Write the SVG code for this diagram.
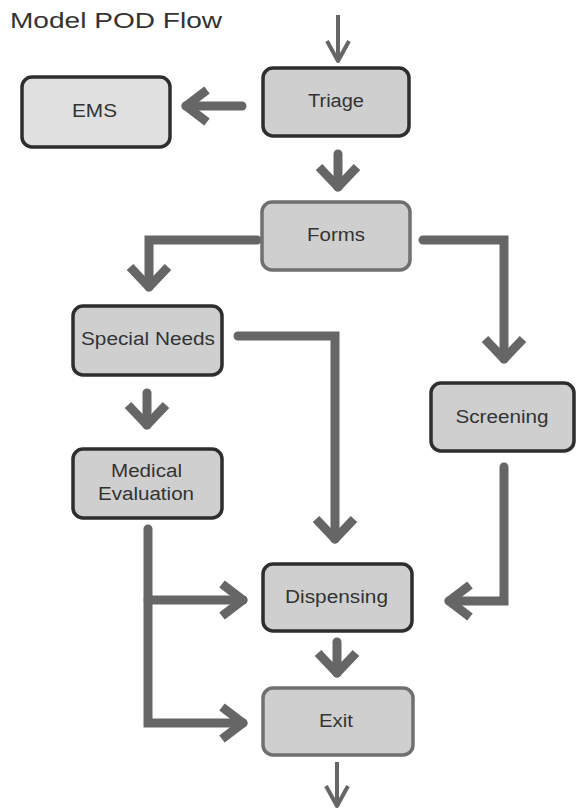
<svg xmlns="http://www.w3.org/2000/svg" width="577" height="811" viewBox="0 0 577 811">
<style>
.box{fill:#cfcfcf;stroke:#2e2e2e;stroke-width:3.5}
.box.light{fill:#e0e0e0}
.box.soft{stroke:#707070}
.lbl{font-family:"Liberation Sans",Arial,sans-serif;font-size:18px;fill:#333;text-anchor:middle}
.title{font-family:"Liberation Sans",Arial,sans-serif;font-size:22px;fill:#333}
.con{fill:none;stroke:#666;stroke-width:9;stroke-linejoin:miter;stroke-linecap:round}
.thin{fill:none;stroke:#666;stroke-width:4;stroke-linecap:butt}
.hd{fill:none;stroke:#666;stroke-width:9;stroke-linejoin:round;stroke-linecap:butt}
.hdt{fill:none;stroke:#666;stroke-width:4;stroke-linejoin:round;stroke-linecap:butt}
</style>
<defs>
<marker id="hv" markerUnits="userSpaceOnUse" viewBox="-28 -26 36 52" markerWidth="36" markerHeight="52" refX="0" refY="0" orient="auto">
<path class="hd" d="M-20,-19 L0,0 L-20,19"/>
</marker>
<marker id="hh" markerUnits="userSpaceOnUse" viewBox="-30 -22 38 44" markerWidth="38" markerHeight="44" refX="0" refY="0" orient="auto">
<path class="hd" d="M-21,-16 L0,0 L-21,16"/>
</marker>
<marker id="ht" markerUnits="userSpaceOnUse" viewBox="-26 -16 32 32" markerWidth="32" markerHeight="32" refX="0" refY="0" orient="auto">
<path class="hdt" d="M-20,-11 L0,0 L-20,11"/>
</marker>
</defs>
<rect width="577" height="811" fill="#ffffff"/>
<text class="title" x="10" y="28" textLength="212" lengthAdjust="spacingAndGlyphs">Model POD Flow</text>
<g id="connectors">
<path class="thin" d="M338,15 L338,61" marker-end="url(#ht)"/>
<path class="con" d="M242,106 L186,106" marker-end="url(#hh)"/>
<path class="con" d="M338,154 L338,187" marker-end="url(#hv)"/>
<path class="con" d="M257,240 L149,240 L149,287" marker-end="url(#hv)"/>
<path class="con" d="M423,240 L504,240 L504,359" marker-end="url(#hv)"/>
<path class="con" d="M147,393 L147,425" marker-end="url(#hv)"/>
<path class="con" d="M238,336 L335,336 L335,539" marker-end="url(#hv)"/>
<path class="con" d="M504,467 L504,601 L449,601" marker-end="url(#hh)"/>
<path class="con" d="M148,529 L148,723 L243,723" marker-end="url(#hh)"/>
<path class="con" d="M148,600 L243,600" marker-end="url(#hh)"/>
<path class="con" d="M337,642 L337,673" marker-end="url(#hv)"/>
<path class="thin" d="M337,762 L337,806" marker-end="url(#ht)"/>
</g>
<g id="triage">
<rect class="box" x="263" y="68" width="146" height="68" rx="10"/>
<text class="lbl" x="336" y="107" textLength="56" lengthAdjust="spacingAndGlyphs">Triage</text>
</g>
<g id="ems">
<rect class="box light" x="22" y="77" width="148" height="70" rx="10"/>
<text class="lbl" x="94.5" y="117" textLength="45" lengthAdjust="spacingAndGlyphs">EMS</text>
</g>
<g id="forms">
<rect class="box soft" x="262" y="202" width="148" height="68" rx="10"/>
<text class="lbl" x="336" y="241" textLength="58" lengthAdjust="spacingAndGlyphs">Forms</text>
</g>
<g id="special-needs">
<rect class="box" x="73" y="306" width="149" height="69" rx="10"/>
<text class="lbl" x="148" y="345" textLength="134" lengthAdjust="spacingAndGlyphs">Special Needs</text>
</g>
<g id="medical-evaluation">
<rect class="box" x="73" y="449" width="149" height="69" rx="10"/>
<text class="lbl" x="146.5" y="477" textLength="71" lengthAdjust="spacingAndGlyphs">Medical</text>
<text class="lbl" x="146" y="500" textLength="96" lengthAdjust="spacingAndGlyphs">Evaluation</text>
</g>
<g id="screening">
<rect class="box" x="431" y="383" width="143" height="68" rx="10"/>
<text class="lbl" x="502" y="423" textLength="93" lengthAdjust="spacingAndGlyphs">Screening</text>
</g>
<g id="dispensing">
<rect class="box" x="263" y="564" width="149" height="67" rx="10"/>
<text class="lbl" x="336.5" y="603" textLength="103" lengthAdjust="spacingAndGlyphs">Dispensing</text>
</g>
<g id="exit">
<rect class="box soft" x="263" y="688" width="150" height="67" rx="10"/>
<text class="lbl" x="336" y="727" textLength="34" lengthAdjust="spacingAndGlyphs">Exit</text>
</g>
</svg>
